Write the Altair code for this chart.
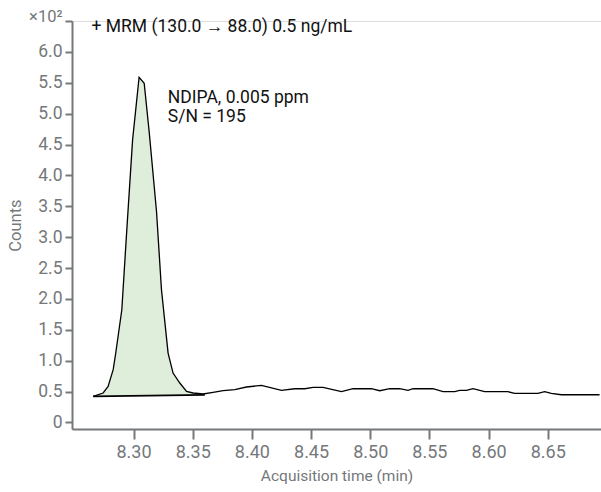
import altair as alt
import pandas as pd

# Chromatogram trace (time in min, counts in x10^2)
times = [8.2659, 8.2743, 8.2785, 8.2828, 8.2850, 8.2901, 8.2943, 8.2992, 8.3047,
         8.3090, 8.3132, 8.3194, 8.3236, 8.3292, 8.3334, 8.3391, 8.3448, 8.3503,
         8.3588, 8.3672, 8.3757, 8.3856, 8.3954, 8.4081, 8.4250, 8.4362, 8.4447,
         8.4517, 8.4601, 8.4757, 8.4855, 8.5010, 8.5080, 8.5165, 8.5249, 8.5319,
         8.5362, 8.5530, 8.5615, 8.5714, 8.5756, 8.5813, 8.5868, 8.5967, 8.6164,
         8.6220, 8.6417, 8.6474, 8.6530, 8.6615, 8.6938]
counts = [0.42, 0.476, 0.583, 0.853, 1.128, 1.824, 3.118, 4.575, 5.589,
          5.492, 4.709, 3.42, 2.15, 1.123, 0.799, 0.638, 0.502, 0.476,
          0.46, 0.485, 0.513, 0.529, 0.573, 0.599, 0.518, 0.545, 0.545,
          0.566, 0.566, 0.497, 0.545, 0.545, 0.513, 0.545, 0.545, 0.518,
          0.545, 0.545, 0.497, 0.497, 0.518, 0.518, 0.545, 0.497, 0.497,
          0.469, 0.469, 0.497, 0.469, 0.448, 0.448]

# Integration baseline endpoints
base_times = [8.2659, 8.3602]
base_counts = [0.42, 0.445]

# Axis tick values
x_ticks = [8.30, 8.35, 8.40, 8.45, 8.50, 8.55, 8.60, 8.65]
y_ticks = [0, 0.5, 1, 1.5, 2, 2.5, 3, 3.5, 4, 4.5, 5, 5.5, 6, 6.5]

# Annotations
ann_text = ["+ MRM (130.0 \u2192 88.0) 0.5 ng/mL", "NDIPA, 0.005 ppm", "S/N = 195"]
ann_x = [8.2645, 8.3290, 8.3290]
ann_y = [6.41, 5.255, 4.945]

trace = pd.DataFrame({"t": times, "c": counts})
peak = trace[(trace.t >= base_times[0]) & (trace.t <= base_times[1])].copy()
slope = (base_counts[1] - base_counts[0]) / (base_times[1] - base_times[0])
peak["b"] = base_counts[0] + (peak.t - base_times[0]) * slope
base = pd.DataFrame({"t": base_times, "c": base_counts})
ann = pd.DataFrame({"text": ann_text, "x": ann_x, "y": ann_y})

FONT = "Roboto"
AXC = "#75787b"

xscale = alt.Scale(domain=[8.248, 8.695], nice=False, zero=False)
yscale = alt.Scale(domain=[-0.107, 6.5], nice=False, zero=False)

xaxis = alt.Axis(
    title="Acquisition time (min)",
    values=x_ticks,
    format=".2f", grid=False, domainColor=AXC, domainWidth=2,
    tickColor=AXC, tickWidth=2, tickSize=10, labelColor=AXC,
    labelFontSize=18, labelFont=FONT, labelPadding=4, labelOverlap=False,
    titleFont=FONT, titleFontSize=15.5, titleColor=AXC,
    titleFontWeight="normal", titlePadding=7,
)
yaxis = alt.Axis(
    title="Counts",
    values=y_ticks,
    labelExpr="datum.value == 6.5 ? '\u00d710\u00b2' : (datum.value == 0 ? '0' : format(datum.value, '.1f'))",
    grid=False, domainColor=AXC, domainWidth=2,
    tickColor=AXC, tickWidth=2, tickSize=7, labelColor=AXC,
    labelFontSize={"condition": {"test": "datum.value == 6.5", "value": 16.5}, "value": 17.5},
    labelOffset={"condition": {"test": "datum.value == 6.5", "value": -5}, "value": 0},
    labelFont=FONT, labelPadding=3, labelOverlap=False, labelBound=False,
    titleFont=FONT, titleFontSize=16.5, titleColor=AXC,
    titleFontWeight="normal", titlePadding=5,
)

X = alt.X("t:Q", scale=xscale, axis=xaxis)
Y = alt.Y("c:Q", scale=yscale, axis=yaxis)

area = alt.Chart(peak).mark_area(color="#dfeddb", opacity=1).encode(
    x=X, y=Y, y2="b:Q",
)
line = alt.Chart(trace).mark_line(color="#000000", strokeWidth=1.3).encode(
    x=X, y=Y,
)
bline = alt.Chart(base).mark_line(color="#000000", strokeWidth=1.8).encode(
    x=X, y=Y,
)
text = alt.Chart(ann).mark_text(align="left", baseline="middle", font=FONT,
                                fontSize=17.5, color="#111111").encode(
    x=alt.X("x:Q", scale=xscale, axis=xaxis),
    y=alt.Y("y:Q", scale=yscale, axis=yaxis),
    text="text:N",
)

chart = alt.layer(area, line, bline, text).properties(
    width=529, height=408,
    autosize=alt.AutoSizeParams(type="none"),
    padding={"left": 72, "top": 21, "right": 0, "bottom": 63},
).configure_view(stroke=None).configure(background="white")

chart.save("out.html", embed_options={"renderer": "svg", "actions": False})
